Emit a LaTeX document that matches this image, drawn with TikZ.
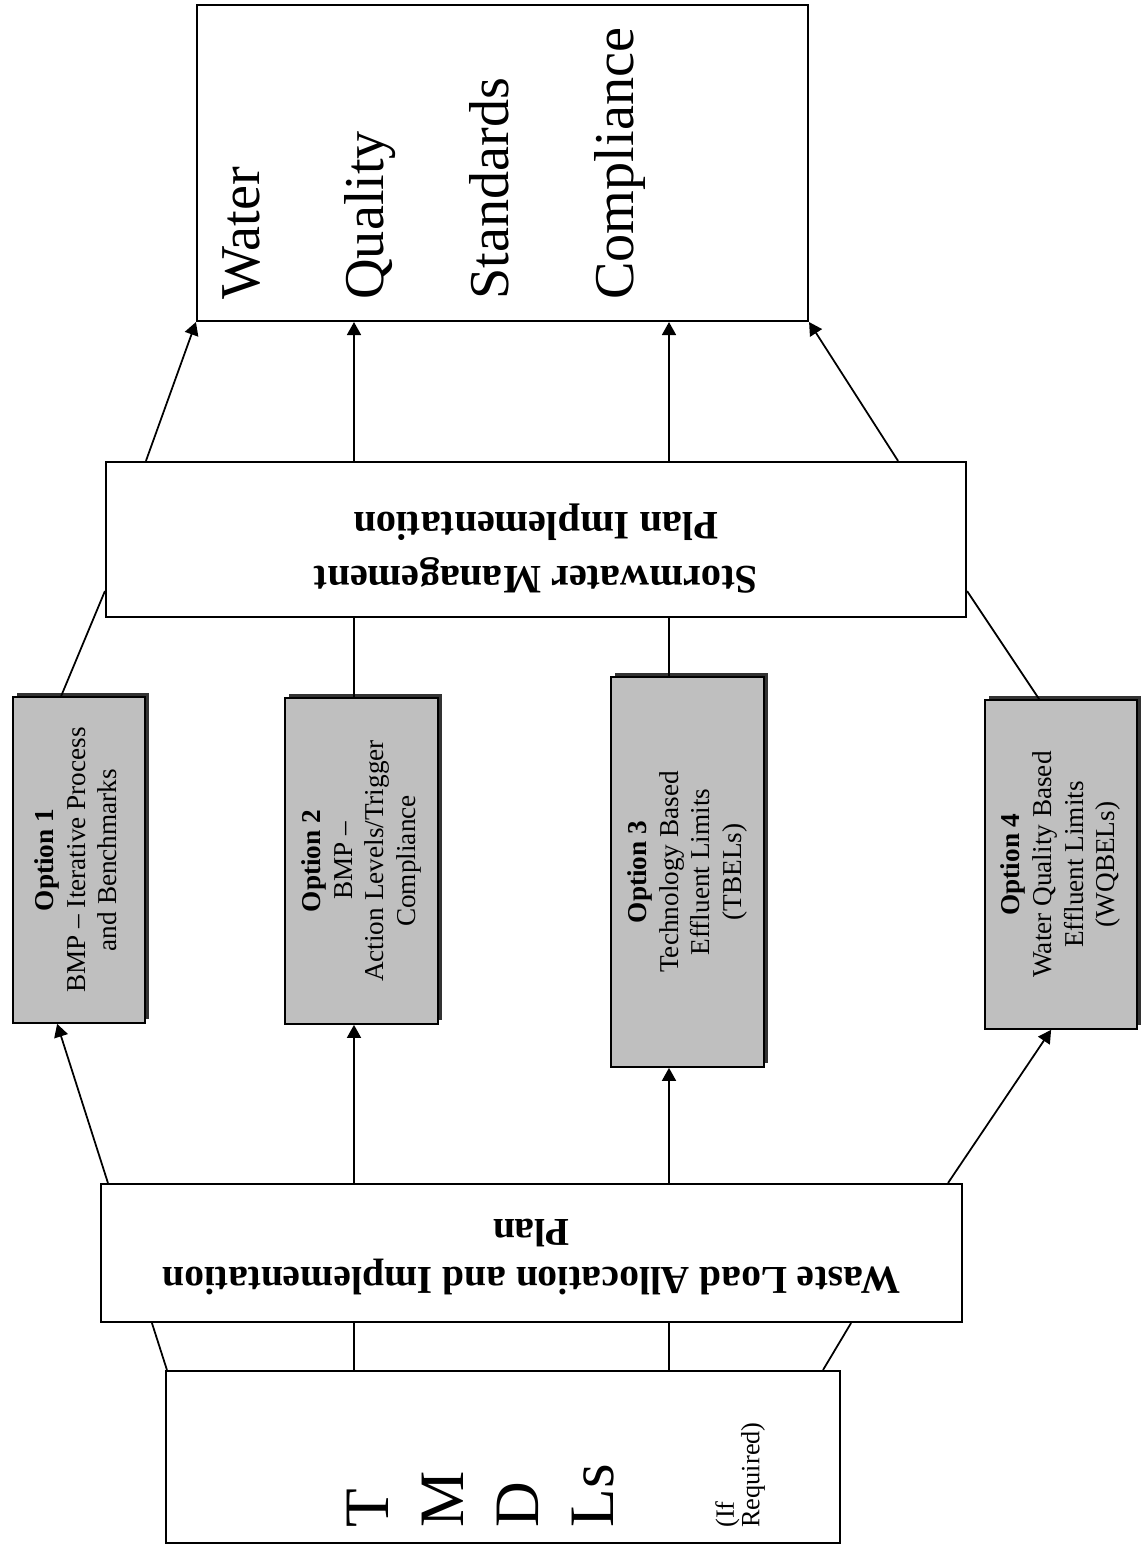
\documentclass[tikz,border=0pt]{standalone}
\usepackage{fontspec}
\setmainfont{Liberation Serif}
\usetikzlibrary{arrows.meta,shadows}

% lines of a box set sideways (90) or upside down (180)
\newcommand{\sidetext}[2][90]{\rotatebox{#1}{\begin{tabular}{@{}c@{}}#2\end{tabular}}}

\begin{document}
\begin{tikzpicture}[
    box/.style={draw, line width=1.2pt, inner sep=0pt},
    optbox/.style={box, fill=black!25, line width=1pt,
      font=\fontsize{15.5}{18}\selectfont,
      general shadow={shadow xshift=.07cm, shadow yshift=.07cm, fill=black!80}},
    con/.style={line width=1pt},
    arr/.style={con, -{Triangle[length=2.6mm,width=2.8mm]}}]
  \useasboundingbox (0,0) rectangle (22.86,31.02);

  % the boxes
  \node[box, minimum width=12.22cm, minimum height=6.32cm] (wqs) at (10.05,27.76) {};
  \node[box, minimum width=17.2cm, minimum height=3.1cm,
    label={[font=\bfseries\fontsize{23}{31}\selectfont, yshift=-.22cm]center:%
      \sidetext[180]{Stormwater Management\\Plan Implementation}}] (smp) at (10.72,20.23) {};
  \node[optbox, minimum width=2.64cm, minimum height=6.52cm] (opt1) at (1.58,13.82)
    {\sidetext{\textbf{Option 1}\\BMP -- Iterative Process\\and Benchmarks}};
  \node[optbox, minimum width=3.06cm, minimum height=6.52cm] (opt2) at (7.23,13.80)
    {\sidetext{\textbf{Option 2}\\BMP --\\Action Levels/Trigger\\Compliance}};
  \node[optbox, minimum width=3.06cm, minimum height=7.8cm] (opt3) at (13.75,13.58)
    {\sidetext{\textbf{Option 3}\\Technology Based\\Effluent Limits\\(TBELs)}};
  \node[optbox, minimum width=3.04cm, minimum height=6.58cm] (opt4) at (21.22,13.73)
    {\sidetext{\textbf{Option 4}\\Water Quality Based\\Effluent Limits\\(WQBELs)}};
  \node[box, minimum width=17.22cm, minimum height=2.76cm,
    font=\bfseries\fontsize{22.5}{27}\selectfont] (wla) at (10.63,5.96)
    {\sidetext[180]{Waste Load Allocation and Implementation\\Plan}};
  \node[box, minimum width=13.48cm, minimum height=3.44cm] (tmdl) at (10.06,1.88) {};

  % sideways texts in the two end boxes
  \node[rotate=90, anchor=north west, align=left, inner sep=0pt,
    font=\fontsize{32}{71}\selectfont] (wqstxt) at (4.44,25.02)
    {Water\\Quality\\Standards\\Compliance};
  \node[rotate=90, anchor=north west, align=left, inner sep=0pt,
    font=\fontsize{36}{42.7}\selectfont] (tmdltxt) at (6.94,0.46) {T\\M\\D\\Ls};
  \node[rotate=90, anchor=north west, align=left, inner sep=0pt,
    font=\fontsize{15}{14.5}\selectfont] (reqtxt) at (14.30,0.46) {(If\\Required)};

  \coordinate (colA) at (7.08,0);
  \coordinate (colB) at (13.38,0);

  % TMDLs to waste load plan
  \draw[con] ([xshift=.04cm]tmdl.north west) -- ([xshift=1.04cm]wla.south west);
  \draw[con] (tmdl.north -| colA) -- (wla.south -| colA);
  \draw[con] (tmdl.north -| colB) -- (wla.south -| colB);
  \draw[con] ([xshift=-.36cm]tmdl.north east) -- ([xshift=-2.24cm]wla.south east);
  % waste load plan to the options
  \draw[arr] ([xshift=.16cm]wla.north west) -- ([xshift=.9cm]opt1.south west);
  \draw[arr] (wla.north -| colA) -- (opt2.south -| colA);
  \draw[arr] (wla.north -| colB) -- (opt3.south -| colB);
  \draw[arr] ([xshift=-.3cm]wla.north east) -- ([xshift=1.34cm]opt4.south west);
  % options to stormwater plan
  \draw[con] ([xshift=.98cm]opt1.north west) -- ([yshift=.54cm]smp.south west);
  \draw[con] (opt2.north -| colA) -- (smp.south -| colA);
  \draw[con] (opt3.north -| colB) -- (smp.south -| colB);
  \draw[con] ([xshift=1.1cm]opt4.north west) -- ([yshift=.54cm]smp.south east);
  % stormwater plan to compliance
  \draw[arr] ([xshift=.82cm]smp.north west) -- (wqs.south west);
  \draw[arr] (smp.north -| colA) -- (wqs.south -| colA);
  \draw[arr] (smp.north -| colB) -- (wqs.south -| colB);
  \draw[arr] ([xshift=-1.38cm]smp.north east) -- (wqs.south east);
\end{tikzpicture}
\end{document}
